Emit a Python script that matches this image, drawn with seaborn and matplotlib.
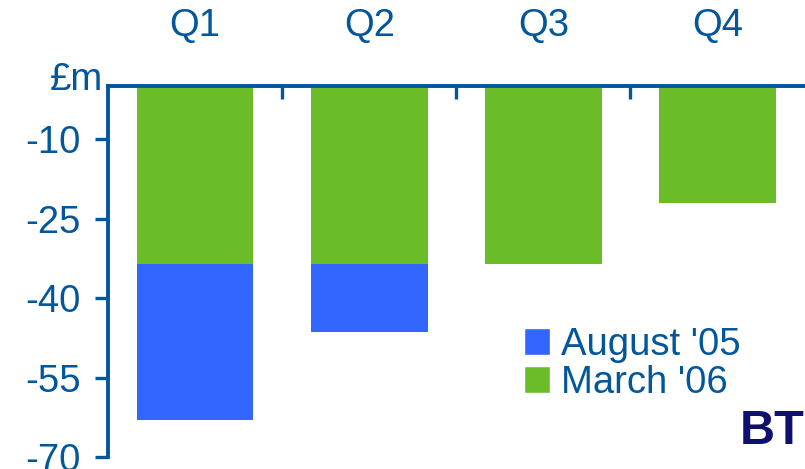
import numpy as np
import pandas as pd
import seaborn as sns
import matplotlib.pyplot as plt
from matplotlib.patches import Patch

# data (£m)
quarters = ['Q1', 'Q2', 'Q3', 'Q4']
august_05 = [-63, -46.5, 0, 0]
march_06 = [-33.5, -33.5, -33.5, -22]
y_ticks = [-10, -25, -40, -55, -70]

navy = '#02569B'
blue = '#3366FF'
green = '#6ABD28'

df = pd.DataFrame({'quarter': quarters, 'aug': august_05, 'mar': march_06})

sns.set_style('white')
plt.rcParams['font.family'] = ['Liberation Sans', 'DejaVu Sans']
fs = 27.5

fig = plt.figure(figsize=(8.05, 4.69), dpi=100)
ax = fig.add_axes([108 / 805, 1 - 457 / 469, 700 / 805, (457 - 86) / 469])

# August '05 behind, March '06 on top
sns.barplot(data=df, x='quarter', y='aug', color=blue, width=0.67,
            saturation=1, linewidth=0, ax=ax)
sns.barplot(data=df, x='quarter', y='mar', color=green, width=0.67,
            saturation=1, linewidth=0, ax=ax)

ax.set_xlim(-0.5, 3.52)
ax.set_ylim(-70, 0)
ax.set_xlabel('')
ax.set_ylabel('')

sns.despine(ax=ax, top=False, right=True, bottom=True, left=False)
for s in ['top', 'left']:
    ax.spines[s].set_color(navy)
    ax.spines[s].set_linewidth(2.8)

ax.xaxis.tick_top()
ax.tick_params(axis='x', which='major', length=0, pad=30, labelsize=fs,
               labelcolor=navy)
ax.set_xticks([0.5, 1.5, 2.5], minor=True)
ax.tick_params(axis='x', which='minor', direction='in', length=9, width=2.4,
               color=navy, top=True, bottom=False)

ax.set_yticks(y_ticks)
ax.set_yticklabels([str(v) for v in y_ticks])
ax.tick_params(axis='y', direction='out', length=9.5, width=2.4, color=navy,
               labelsize=fs, labelcolor=navy, pad=10, left=True)

fig.text(103 / 805, 1 - 80 / 469, '£m', ha='right', va='center',
         fontsize=fs, color=navy)

handles = [Patch(facecolor=blue, label="August '05"),
           Patch(facecolor=green, label="March '06")]
leg = fig.legend(handles=handles, loc='upper left',
                 bbox_to_anchor=(524 / 805, 1 - 327 / 469),
                 frameon=False, fontsize=fs, handlelength=0.68,
                 handleheight=0.68, handletextpad=0.3, labelspacing=0.05,
                 borderpad=0, borderaxespad=0)
for t in leg.get_texts():
    t.set_color(navy)

# BT logo
fig.text(804 / 805, 1 - 431 / 469, 'BT', ha='right', va='center',
         fontsize=35, fontweight='bold', color='#0F0F6E')

fig.savefig('out.png', dpi=100)
